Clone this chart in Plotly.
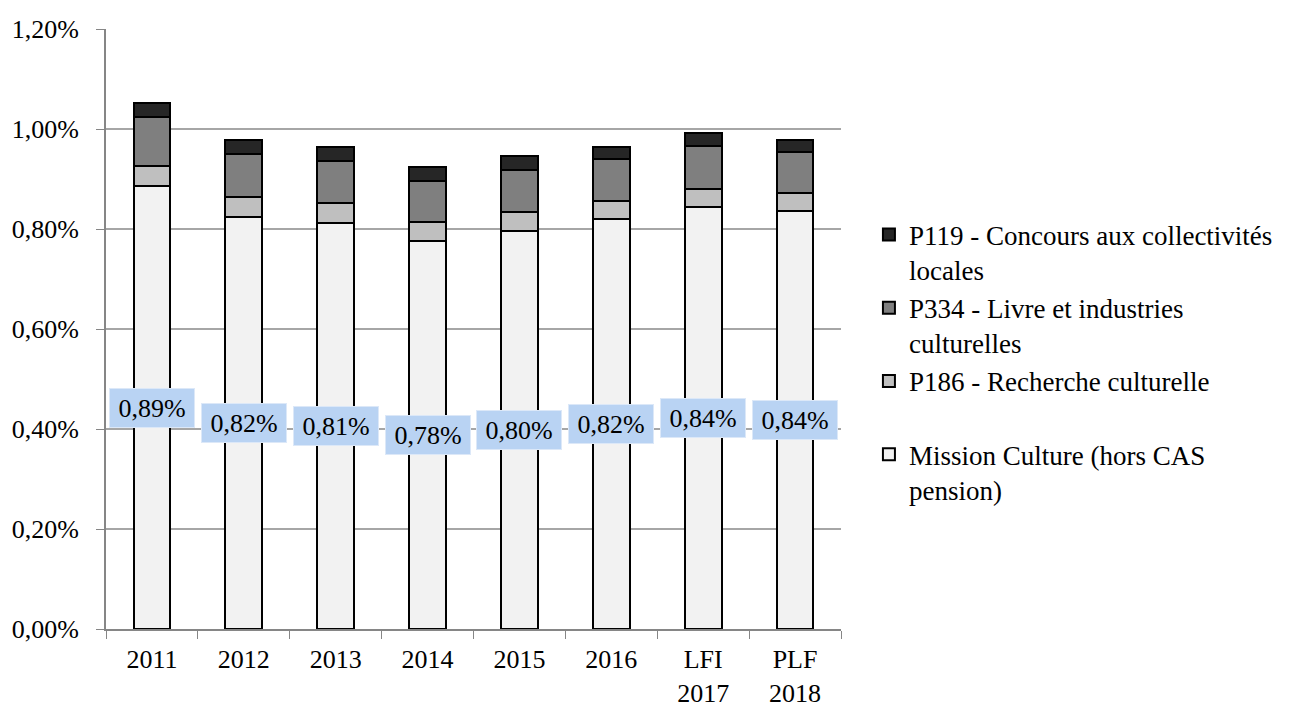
import plotly.graph_objects as go

# Part of cultural spending (% of state budget)
categories = ["2011", "2012", "2013", "2014", "2015", "2016", "LFI<br>2017", "PLF<br>2018"]
mission_culture = [0.886, 0.824, 0.813, 0.777, 0.796, 0.820, 0.844, 0.837]
p186 = [0.041, 0.040, 0.039, 0.038, 0.038, 0.037, 0.037, 0.035]
p334 = [0.098, 0.087, 0.085, 0.082, 0.084, 0.084, 0.086, 0.082]
p119 = [0.028, 0.028, 0.028, 0.028, 0.028, 0.024, 0.026, 0.025]

series = [
    ("Mission Culture (hors CAS<br>pension)", mission_culture, "#F2F2F2"),
    ("P186 - Recherche culturelle<br> ", p186, "#BFBFBF"),
    ("P334 - Livre et industries<br>culturelles", p334, "#7F7F7F"),
    ("P119 - Concours aux collectivités<br>locales", p119, "#262626"),
]

FONT = "Liberation Serif"

fig = go.Figure()
for i, (name, vals, col) in enumerate(series):
    fig.add_trace(go.Bar(
        x=categories, y=vals, name=name, legendgroup=str(i),
        marker=dict(color=col, line=dict(color="black", width=2)),
        hoverinfo="y",
    ))

# data labels on the Mission Culture segment (x given as category index,
# since "2011" etc. would otherwise be read as numeric positions)
annotations = []
for idx, v in enumerate(mission_culture):
    annotations.append(dict(
        x=idx, y=v / 2, xref="x", yref="y", showarrow=False,
        text=("%.2f" % v).replace(".", ",") + "%",
        font=dict(family=FONT, size=26, color="black"),
        bgcolor="#B9D3F3", bordercolor="#DCE8F8", borderwidth=1,
        width=80, height=34, borderpad=2,
    ))

# page body adds an 8px offset, so the figure is a bit smaller than the window
fig.update_layout(
    barmode="stack",
    bargap=0.6,
    width=1288, height=699,
    margin=dict(l=98, r=455, t=21, b=78, autoexpand=False),
    paper_bgcolor="white", plot_bgcolor="white",
    font=dict(family=FONT, size=26, color="black"),
    separators=", ",
    annotations=annotations,
    legend=dict(
        x=1.038, xanchor="left", y=0.445, yanchor="middle",
        traceorder="reversed", valign="top",
        tracegroupgap=19,
        font=dict(family=FONT, size=27),
        itemwidth=30,
    ),
)
fig.update_yaxes(
    range=[0, 1.2], dtick=0.2, tickformat=".2f", ticksuffix="%",
    showgrid=True, gridcolor="#A6A6A6", gridwidth=1.5,
    showline=True, linecolor="#868686", linewidth=2,
    ticks="outside", ticklen=8, tickcolor="#868686",
    ticklabelstandoff=12, zeroline=False, automargin=False,
)
fig.update_xaxes(
    type="category", range=[-0.5, len(categories) - 0.5],
    showline=True, linecolor="#868686", linewidth=2,
    ticks="outside", ticklen=8, tickcolor="#868686", tickson="boundaries",
    ticklabelstandoff=6, automargin=False,
)

fig.write_html("out.html")
